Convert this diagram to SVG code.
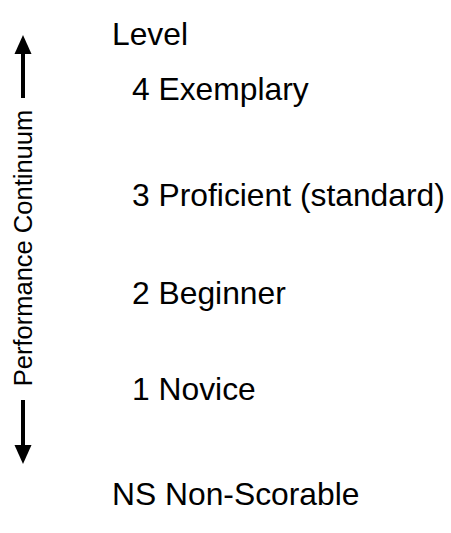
<svg xmlns="http://www.w3.org/2000/svg" width="451" height="533" viewBox="0 0 451 533">
<style>
.t{font-family:"Liberation Sans",Arial,Helvetica,sans-serif;font-size:31.8px;fill:#000}
.v{font-family:"Liberation Sans",Arial,Helvetica,sans-serif;font-size:25.5px;fill:#000}
.shaft{stroke:#000;stroke-width:4;fill:none}
</style>
<rect width="451" height="533" fill="#fff"/>
<g id="axis-label"><text class="v" transform="translate(32,248) rotate(-90)" text-anchor="middle">Performance Continuum</text></g>
<g id="connectors">
<line class="shaft" x1="23" y1="52" x2="23" y2="98"/>
<polygon points="23,35 14.5,54 31.5,54" fill="#000"/>
<line class="shaft" x1="23" y1="400" x2="23" y2="448"/>
<polygon points="23,464 14.5,445 31.5,445" fill="#000"/>
</g>
<g id="level"><text class="t" x="112" y="45">Level</text></g>
<g id="level4"><text class="t" x="132" y="100">4 Exemplary</text></g>
<g id="level3"><text class="t" x="132" y="206">3 Proficient (standard)</text></g>
<g id="level2"><text class="t" x="132" y="304">2 Beginner</text></g>
<g id="level1"><text class="t" x="132" y="400">1 Novice</text></g>
<g id="levelNS"><text class="t" x="112" y="505">NS Non-Scorable</text></g>
</svg>
